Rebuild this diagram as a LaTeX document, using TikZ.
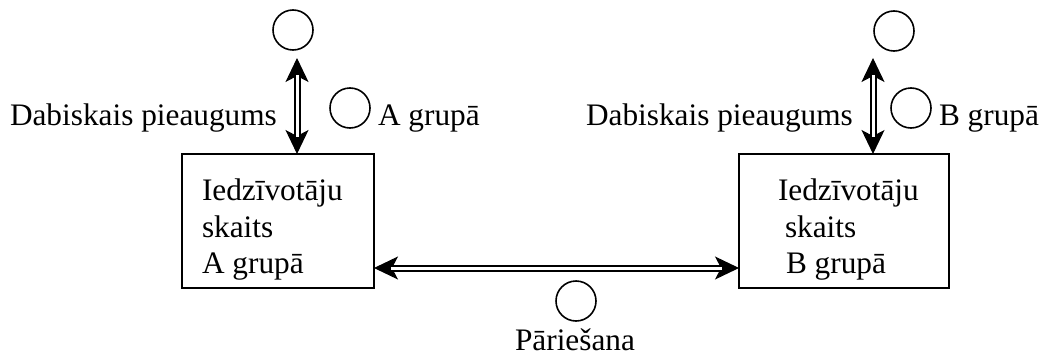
\documentclass[tikz,border=0pt]{standalone}
\usepackage{fontspec}
\setmainfont{Liberation Serif}
\usetikzlibrary{arrows.meta}
\begin{document}
\begin{tikzpicture}[x=1pt,y=-1pt,
  every node/.style={font=\fontsize{31.3}{36.7}\selectfont, inner sep=0pt, outer sep=0pt},
  boxnode/.style={draw, line width=1.8pt, minimum width=192pt, minimum height=134pt},
  valcircle/.style={draw, circle, line width=1.6pt, minimum size=40pt},
  txt/.style={anchor=base west},
  tipline/.style={line width=1pt,
    {Stealth[length=24pt,width=23pt,inset=6pt]}-{Stealth[length=24pt,width=23pt,inset=6pt]}},
  dblline/.style={double, double distance=3pt, line width=2pt, shorten <=17pt, shorten >=17pt}]
\useasboundingbox (0,0) rectangle (1043,356);
% boxes
\node[boxnode] (boxA) at (278,221) {};
\node[boxnode, minimum width=210pt] (boxB) at (844,221) {};
\node[txt] (tA1) at (202,200) {Iedzīvotāju};
\node[txt] (tA2) at (202,237) {skaits};
\node[txt] (tA3) at (202,273) {A grupā};
\node[txt] (tB1) at (778,200) {Iedzīvotāju};
\node[txt] (tB2) at (785,237) {skaits};
\node[txt] (tB3) at (786,273) {B grupā};
% circles
\node[valcircle] (cA1) at (293,30) {};
\node[valcircle] (cA2) at (350,108) {};
\node[valcircle] (cB1) at (894,31) {};
\node[valcircle] (cB2) at (911,108) {};
\node[valcircle] (cM) at (576,301) {};
% labels
\node[txt] (dA) at (10,125) {Dabiskais pieaugums};
\node[txt] (gA) at (378,125) {A grupā};
\node[txt] (dB) at (586,125) {Dabiskais pieaugums};
\node[txt] (gB) at (939,125) {B grupā};
\node[anchor=base] (pM) at (575,350) {Pāriešana};
% arrows
\coordinate (aA) at (297,58);
\coordinate (aB) at (873,58);
\coordinate (mid) at (0,268);
\draw[tipline] (aA) -- (aA |- boxA.north);
\draw[dblline] (aA) -- (aA |- boxA.north);
\draw[tipline] (aB) -- (aB |- boxB.north);
\draw[dblline] (aB) -- (aB |- boxB.north);
\draw[tipline] (boxA.east |- mid) -- (boxB.west |- mid);
\draw[dblline] (boxA.east |- mid) -- (boxB.west |- mid);
\end{tikzpicture}
\end{document}
